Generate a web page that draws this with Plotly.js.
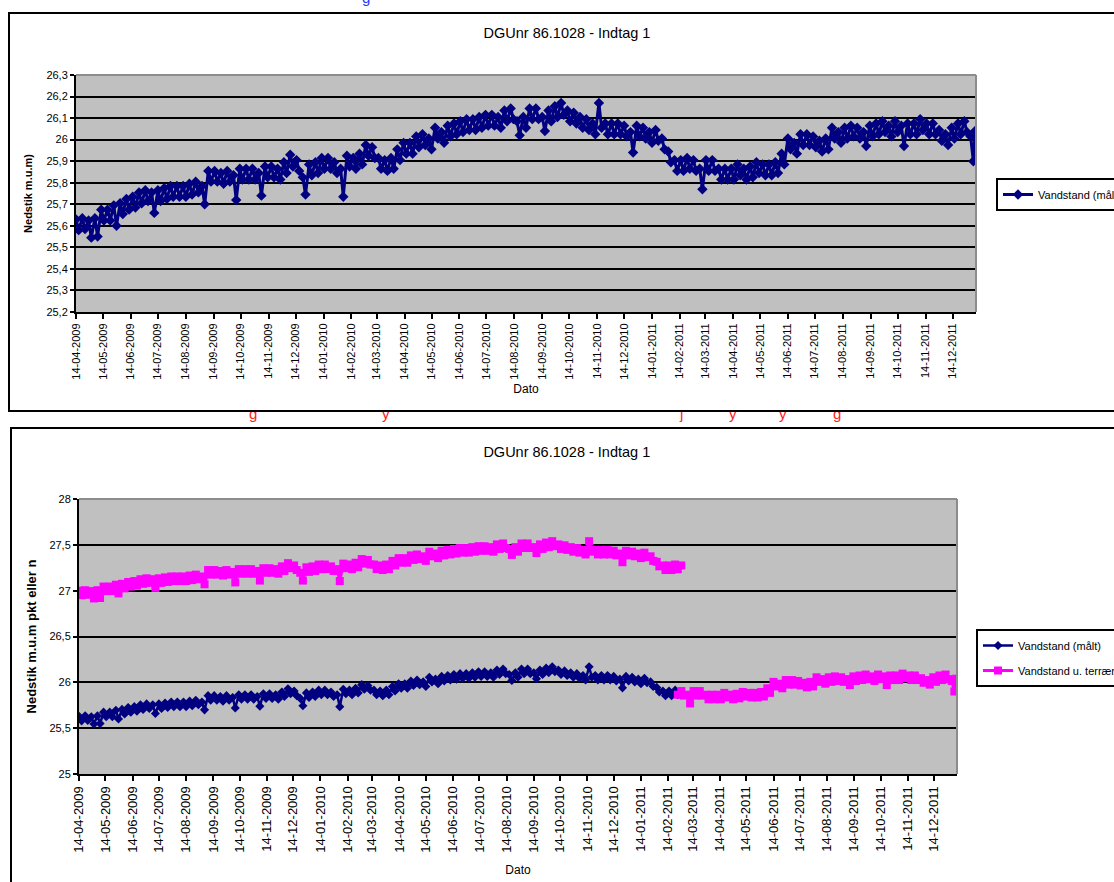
<!DOCTYPE html>
<html>
<head>
<meta charset="utf-8">
<script src="https://cdn.plot.ly/plotly-3.0.1.min.js"></script>
<style>
html,body{margin:0;padding:0;background:#fff;width:1114px;height:882px;overflow:hidden;position:relative;font-family:"Liberation Sans",Arial,sans-serif;}
.frame{position:absolute;border:2px solid #000;background:#fff;}
#c1{left:8px;top:12px;width:1130px;height:396px;}
#c2{left:10px;top:427px;width:1130px;height:470px;}
.clip{position:absolute;overflow:hidden;}
.clip span{position:absolute;font-size:15px;line-height:15px;}
</style>
</head>
<body>
<div class="clip" style="left:0;top:0;width:1114px;height:6px;">
  <span style="left:362px;top:-10px;color:#2b3bff;">g</span>
</div>
<div class="clip" style="left:0;top:412px;width:1114px;height:14px;">
  <span style="left:249px;top:-6px;color:#ff2020;">g</span>
  <span style="left:382px;top:-6px;color:#ff2020;">y</span>
  <span style="left:680px;top:-6px;color:#ff2020;">j</span>
  <span style="left:729px;top:-6px;color:#ff2020;">y</span>
  <span style="left:779px;top:-6px;color:#ff2020;">y</span>
  <span style="left:833px;top:-6px;color:#ff2020;">g</span>
</div>
<div id="c1" class="frame"></div>
<div id="c2" class="frame"></div>
<script>
// ---- data (readings twice a week) ----
const dates = [
"2009-04-14","2009-04-17","2009-04-21","2009-04-24","2009-04-28","2009-05-01","2009-05-05","2009-05-08","2009-05-12","2009-05-15",
"2009-05-19","2009-05-22","2009-05-26","2009-05-29","2009-06-02","2009-06-05","2009-06-09","2009-06-12","2009-06-16","2009-06-19",
"2009-06-23","2009-06-26","2009-06-30","2009-07-03","2009-07-07","2009-07-10","2009-07-14","2009-07-17","2009-07-21","2009-07-24",
"2009-07-28","2009-07-31","2009-08-04","2009-08-07","2009-08-11","2009-08-14","2009-08-18","2009-08-21","2009-08-25","2009-08-28",
"2009-09-01","2009-09-04","2009-09-08","2009-09-11","2009-09-15","2009-09-18","2009-09-22","2009-09-25","2009-09-29","2009-10-02",
"2009-10-06","2009-10-09","2009-10-13","2009-10-16","2009-10-20","2009-10-23","2009-10-27","2009-10-30","2009-11-03","2009-11-06",
"2009-11-10","2009-11-13","2009-11-17","2009-11-20","2009-11-24","2009-11-27","2009-12-01","2009-12-04","2009-12-08","2009-12-11",
"2009-12-15","2009-12-18","2009-12-22","2009-12-25","2009-12-29","2010-01-01","2010-01-05","2010-01-08","2010-01-12","2010-01-15",
"2010-01-19","2010-01-22","2010-01-26","2010-01-29","2010-02-02","2010-02-05","2010-02-09","2010-02-12","2010-02-16","2010-02-19",
"2010-02-23","2010-02-26","2010-03-02","2010-03-05","2010-03-09","2010-03-12","2010-03-16","2010-03-19","2010-03-23","2010-03-26",
"2010-03-30","2010-04-02","2010-04-06","2010-04-09","2010-04-13","2010-04-16","2010-04-20","2010-04-23","2010-04-27","2010-04-30",
"2010-05-04","2010-05-07","2010-05-11","2010-05-14","2010-05-18","2010-05-21","2010-05-25","2010-05-28","2010-06-01","2010-06-04",
"2010-06-08","2010-06-11","2010-06-15","2010-06-18","2010-06-22","2010-06-25","2010-06-29","2010-07-02","2010-07-06","2010-07-09",
"2010-07-13","2010-07-16","2010-07-20","2010-07-23","2010-07-27","2010-07-30","2010-08-03","2010-08-06","2010-08-10","2010-08-13",
"2010-08-17","2010-08-20","2010-08-24","2010-08-27","2010-08-31","2010-09-03","2010-09-07","2010-09-10","2010-09-14","2010-09-17",
"2010-09-21","2010-09-24","2010-09-28","2010-10-01","2010-10-05","2010-10-08","2010-10-12","2010-10-15","2010-10-19","2010-10-22",
"2010-10-26","2010-10-29","2010-11-02","2010-11-05","2010-11-09","2010-11-12","2010-11-16","2010-11-19","2010-11-23","2010-11-26",
"2010-11-30","2010-12-03","2010-12-07","2010-12-10","2010-12-14","2010-12-17","2010-12-21","2010-12-24","2010-12-28","2010-12-31",
"2011-01-04","2011-01-07","2011-01-11","2011-01-14","2011-01-18","2011-01-21","2011-01-25","2011-01-28","2011-02-01","2011-02-04",
"2011-02-08","2011-02-11","2011-02-15","2011-02-18","2011-02-22","2011-02-25","2011-03-01","2011-03-04","2011-03-08","2011-03-11",
"2011-03-15","2011-03-18","2011-03-22","2011-03-25","2011-03-29","2011-04-01","2011-04-05","2011-04-08","2011-04-12","2011-04-15",
"2011-04-19","2011-04-22","2011-04-26","2011-04-29","2011-05-03","2011-05-06","2011-05-10","2011-05-13","2011-05-17","2011-05-20",
"2011-05-24","2011-05-27","2011-05-31","2011-06-03","2011-06-07","2011-06-10","2011-06-14","2011-06-17","2011-06-21","2011-06-24",
"2011-06-28","2011-07-01","2011-07-05","2011-07-08","2011-07-12","2011-07-15","2011-07-19","2011-07-22","2011-07-26","2011-07-29",
"2011-08-02","2011-08-05","2011-08-09","2011-08-12","2011-08-16","2011-08-19","2011-08-23","2011-08-26","2011-08-30","2011-09-02",
"2011-09-06","2011-09-09","2011-09-13","2011-09-16","2011-09-20","2011-09-23","2011-09-27","2011-09-30","2011-10-04","2011-10-07",
"2011-10-11","2011-10-14","2011-10-18","2011-10-21","2011-10-25","2011-10-28","2011-11-01","2011-11-04","2011-11-08","2011-11-11",
"2011-11-15","2011-11-18","2011-11-22","2011-11-25","2011-11-29","2011-12-02","2011-12-06","2011-12-09","2011-12-13","2011-12-16",
"2011-12-20","2011-12-23","2011-12-27","2011-12-30","2012-01-03","2012-01-06","2012-01-08"
];
// Vandstand (målt)
const level = [
25.63,25.58,25.635,25.585,25.625,25.545,25.635,25.55,25.675,25.625,
25.675,25.625,25.695,25.60,25.705,25.655,25.725,25.675,25.735,25.685,
25.755,25.705,25.765,25.715,25.755,25.66,25.765,25.715,25.775,25.725,
25.785,25.735,25.785,25.735,25.785,25.735,25.795,25.745,25.805,25.755,
25.785,25.70,25.855,25.805,25.855,25.805,25.845,25.795,25.855,25.805,
25.835,25.72,25.865,25.815,25.865,25.815,25.865,25.815,25.845,25.74,
25.875,25.825,25.875,25.825,25.865,25.815,25.895,25.845,25.93,25.875,
25.905,25.855,25.825,25.745,25.885,25.835,25.895,25.845,25.915,25.865,
25.915,25.865,25.895,25.845,25.865,25.735,25.925,25.875,25.915,25.865,
25.935,25.885,25.975,25.925,25.965,25.915,25.915,25.865,25.905,25.855,
25.915,25.865,25.955,25.905,25.985,25.935,25.985,25.935,26.015,25.965,
26.025,25.975,26.005,25.955,26.055,26.005,26.035,25.985,26.065,26.015,
26.075,26.025,26.085,26.035,26.095,26.045,26.095,26.045,26.105,26.055,
26.115,26.065,26.115,26.065,26.105,26.055,26.135,26.085,26.145,26.095,
26.085,26.02,26.105,26.055,26.145,26.095,26.145,26.095,26.105,26.04,
26.135,26.085,26.155,26.105,26.17,26.115,26.135,26.085,26.125,26.075,
26.105,26.055,26.095,26.045,26.075,26.025,26.17,26.055,26.075,26.025,
26.075,26.025,26.075,26.025,26.065,26.015,26.035,25.94,26.065,26.015,
26.055,26.005,26.035,25.985,26.045,25.995,26.005,25.955,25.945,25.895,
25.905,25.855,25.905,25.855,25.915,25.865,25.905,25.855,25.865,25.77,
25.905,25.855,25.905,25.855,25.865,25.815,25.865,25.815,25.865,25.815,
25.885,25.835,25.865,25.815,25.875,25.825,25.895,25.845,25.885,25.835,
25.885,25.835,25.895,25.845,25.935,25.885,26.005,25.955,25.985,25.935,
26.025,25.975,26.025,25.975,26.015,25.965,25.995,25.945,26.005,25.955,
26.055,26.005,26.035,25.985,26.055,26.005,26.065,26.015,26.055,26.005,
26.035,25.97,26.065,26.015,26.075,26.025,26.085,26.035,26.065,26.015,
26.085,26.035,26.065,25.97,26.075,26.025,26.075,26.025,26.095,26.045,
26.075,26.025,26.075,26.025,26.045,25.995,26.025,25.975,26.055,26.005,
26.075,26.025,26.085,26.035,26.015,25.90,26.04
];
// Vandstand u. terræn (upper part, until the shift at the start of March 2011)
const terrain = [
27.00,26.95,27.005,26.955,26.995,26.915,27.005,26.92,27.045,26.995,
27.045,26.995,27.065,26.97,27.075,27.025,27.095,27.045,27.105,27.055,
27.125,27.075,27.135,27.085,27.125,27.03,27.135,27.085,27.145,27.095,
27.155,27.105,27.155,27.105,27.155,27.105,27.165,27.115,27.175,27.125,
27.155,27.07,27.225,27.175,27.225,27.175,27.215,27.165,27.225,27.175,
27.205,27.09,27.235,27.185,27.235,27.185,27.235,27.185,27.215,27.11,
27.245,27.195,27.245,27.195,27.235,27.185,27.265,27.215,27.30,27.245,
27.275,27.225,27.195,27.11,27.255,27.205,27.265,27.215,27.285,27.235,
27.285,27.235,27.265,27.215,27.235,27.105,27.295,27.245,27.285,27.235,
27.305,27.255,27.345,27.295,27.335,27.285,27.285,27.235,27.275,27.225,
27.285,27.235,27.325,27.275,27.355,27.305,27.355,27.305,27.385,27.335,
27.395,27.345,27.375,27.325,27.425,27.375,27.405,27.355,27.435,27.385,
27.445,27.395,27.455,27.405,27.465,27.415,27.465,27.415,27.475,27.425,
27.485,27.435,27.485,27.435,27.475,27.425,27.505,27.455,27.515,27.465,
27.455,27.39,27.475,27.425,27.515,27.465,27.515,27.465,27.475,27.41,
27.505,27.455,27.525,27.475,27.54,27.485,27.505,27.455,27.495,27.445,
27.475,27.425,27.465,27.415,27.445,27.395,27.54,27.425,27.445,27.395,
27.445,27.395,27.445,27.395,27.435,27.385,27.405,27.31,27.435,27.385,
27.425,27.375,27.405,27.355,27.415,27.365,27.375,27.325,27.315,27.265,
27.275,27.225,27.275,27.225,27.285,27.235,27.275
];
const navyEnd = 196;     // bottom chart: measured series shown up to 2011-02-25
const lowerStart = 195;  // bottom chart: terrain series continues at measured level
const tickDates = [
"2009-04-14","2009-05-14","2009-06-14","2009-07-14","2009-08-14","2009-09-14","2009-10-14","2009-11-14","2009-12-14",
"2010-01-14","2010-02-14","2010-03-14","2010-04-14","2010-05-14","2010-06-14","2010-07-14","2010-08-14","2010-09-14","2010-10-14","2010-11-14","2010-12-14",
"2011-01-14","2011-02-14","2011-03-14","2011-04-14","2011-05-14","2011-06-14","2011-07-14","2011-08-14","2011-09-14","2011-10-14","2011-11-14","2011-12-14"
];
const tickLabels = [
"14-04-2009","14-05-2009","14-06-2009","14-07-2009","14-08-2009","14-09-2009","14-10-2009","14-11-2009","14-12-2009",
"14-01-2010","14-02-2010","14-03-2010","14-04-2010","14-05-2010","14-06-2010","14-07-2010","14-08-2010","14-09-2010","14-10-2010","14-11-2010","14-12-2010",
"14-01-2011","14-02-2011","14-03-2011","14-04-2011","14-05-2011","14-06-2011","14-07-2011","14-08-2011","14-09-2011","14-10-2011","14-11-2011","14-12-2011"
];
const yTicks1 = [25.2,25.3,25.4,25.5,25.6,25.7,25.8,25.9,26.0,26.1,26.2,26.3];
const yLabels1 = ["25,2","25,3","25,4","25,5","25,6","25,7","25,8","25,9","26","26,1","26,2","26,3"];
const yTicks2 = [25,25.5,26,26.5,27,27.5,28];
const yLabels2 = ["25","25,5","26","26,5","27","27,5","28"];
const titleText = "DGUnr 86.1028 - Indtag 1";
const nameMaalt = "Vandstand (målt)";
const nameTerr = "Vandstand u. terræn";

// ---- styling ----
const FONT = '"Liberation Sans", Arial, sans-serif';
const NAVY = '#000080', MAG = '#ff00ff', PLOTBG = '#c0c0c0', BORDER = '#8c8c8c';
const xRange = ['2009-04-14', '2012-01-09'];

function xaxisCfg(fs, standoff){
  return {type:'date', range:xRange, tickmode:'array', tickvals:tickDates, ticktext:tickLabels,
    tickangle:-90, ticks:'outside', ticklen:5, tickwidth:2, tickcolor:'#000',
    showgrid:false, zeroline:false, showline:true, linecolor:'#000', linewidth:2,
    tickfont:{family:FONT,size:fs,color:'#000'},
    title:{text:'Dato', font:{family:FONT,size:12,color:'#000'}, standoff:standoff},
    automargin:false, fixedrange:true};
}
function yaxisCfg(range, tv, tt, title, tfs, standoff){
  return {range:range, tickmode:'array', tickvals:tv, ticktext:tt,
    ticks:'outside', ticklen:4, tickwidth:2, tickcolor:'#000',
    showgrid:true, gridcolor:'#000', gridwidth:2, zeroline:false,
    showline:true, linecolor:'#000', linewidth:2,
    tickfont:{family:FONT,size:11,color:'#000'},
    title:{text:title, font:{family:FONT,size:tfs,color:'#000',weight:'bold'}, standoff:standoff},
    automargin:false, fixedrange:true};
}
function borderShapes(){
  return [
    {type:'line', xref:'paper', yref:'paper', x0:0, x1:1, y0:1, y1:1, line:{color:BORDER,width:2}, layer:'above'},
    {type:'line', xref:'paper', yref:'paper', x0:1, x1:1, y0:0, y1:1, line:{color:BORDER,width:2}, layer:'above'}
  ];
}

// ---- chart 1 ----
const W = 1130;
const traces1 = [{
  x: dates, y: level, type:'scatter', mode:'lines+markers', name:nameMaalt,
  line:{color:NAVY,width:3}, marker:{color:NAVY,symbol:'diamond',size:8}
}];
const layout1 = {
  width:W, height:396, margin:{l:66, r:W-66-900, t:61, b:98},
  paper_bgcolor:'#fff', plot_bgcolor:PLOTBG,
  font:{family:FONT,color:'#000'},
  title:{text:titleText, font:{family:FONT,size:14.5,color:'#000'}, x:0.4929, xanchor:'center', y:0.952, yanchor:'middle'},
  xaxis:xaxisCfg(11, 6),
  yaxis:yaxisCfg([25.2,26.3], yTicks1, yLabels1, 'Nedstik m.u.m)', 11, 12),
  showlegend:true,
  legend:{x:(996-76)/900, y:1-(178-75)/237, xanchor:'left', yanchor:'top', bgcolor:'#fff',
    bordercolor:'#000', borderwidth:2, font:{family:FONT,size:11,color:'#000'}, itemwidth:30},
  shapes:borderShapes()
};

// ---- chart 2 ----
const traces2 = [
  {x: dates.slice(0, navyEnd), y: level.slice(0, navyEnd), type:'scatter', mode:'lines+markers', name:nameMaalt,
   legendgroup:'a', line:{color:NAVY,width:2.5}, marker:{color:NAVY,symbol:'diamond',size:7}},
  {x: dates.slice(0, terrain.length), y: terrain, type:'scatter', mode:'lines+markers', name:nameTerr,
   legendgroup:'b', line:{color:MAG,width:3}, marker:{color:MAG,symbol:'square',size:8}},
  {x: dates.slice(lowerStart), y: level.slice(lowerStart), type:'scatter', mode:'lines+markers', name:nameTerr,
   legendgroup:'b', showlegend:false, line:{color:MAG,width:3}, marker:{color:MAG,symbol:'square',size:8}}
];
const layout2 = {
  width:W, height:470, margin:{l:67, r:W-67-878, t:70, b:125},
  paper_bgcolor:'#fff', plot_bgcolor:PLOTBG,
  font:{family:FONT,color:'#000'},
  title:{text:titleText, font:{family:FONT,size:14.5,color:'#000'}, x:0.491, xanchor:'center', y:1-23/470, yanchor:'middle'},
  xaxis:xaxisCfg(13, 14),
  yaxis:yaxisCfg([25,28], yTicks2, yLabels2, 'Nedstik m.u.m pkt eller n', 13, 10),
  showlegend:true,
  legend:{x:(976-79)/878, y:1-(629-499)/275, xanchor:'left', yanchor:'top', bgcolor:'#fff',
    bordercolor:'#000', borderwidth:2, font:{family:FONT,size:11,color:'#000'}, itemwidth:30, tracegroupgap:6},
  shapes:borderShapes()
};

const cfg = {displayModeBar:false, staticPlot:true};
Plotly.newPlot('c1', traces1, layout1, cfg);
Plotly.newPlot('c2', traces2, layout2, cfg);
</script>
</body>
</html>
